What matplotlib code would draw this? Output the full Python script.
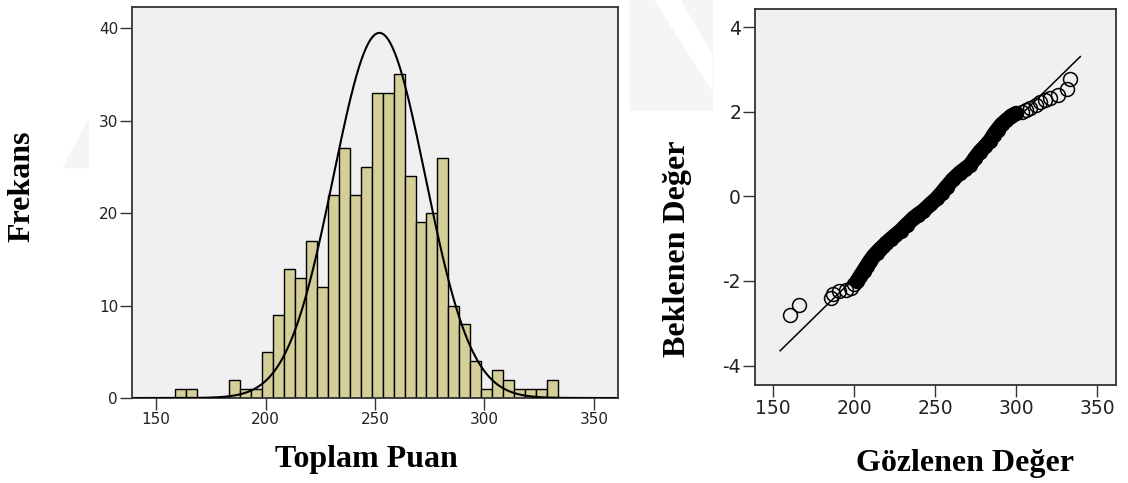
import numpy as np
import matplotlib
matplotlib.use("Agg")
import matplotlib.pyplot as plt
from matplotlib.patches import Polygon

plt.rcParams["axes.unicode_minus"] = False

# histogram: counts per 5-point bin, first bin starts at 158.5
bin_start = 158.5
bin_width = 5
counts = [1, 1, 0, 0, 0, 2, 1, 1, 5, 9, 14, 13, 17, 12, 22, 27, 22, 25,
          33, 33, 35, 24, 19, 20, 26, 10, 8, 4, 1, 3, 2, 1, 1, 1, 2]

# fitted normal curve
curve_mean = 252
curve_sd = 21
curve_peak = 39.5

# normal Q-Q plot: observed value vs expected normal value
band_observed = [202, 204, 206, 208, 210, 212, 214, 216, 218, 220, 222.7,
                 225.5, 228.9, 232.5, 236.6, 239.5, 242.8, 247, 251, 254,
                 257.2, 261, 265.4, 268.5, 271.6, 274.5, 277.7, 281, 283.9,
                 286, 288.5, 291, 294, 297, 300]
band_expected = [-2.0, -1.88, -1.76, -1.64, -1.52, -1.42, -1.33, -1.25,
                 -1.18, -1.10, -1.01, -0.92, -0.81, -0.67, -0.52, -0.43,
                 -0.34, -0.19, -0.05, 0.08, 0.23, 0.40, 0.56, 0.65, 0.74,
                 0.90, 1.06, 1.19, 1.32, 1.45, 1.58, 1.70, 1.80, 1.90, 1.96]
tail_observed = [160.7, 166.4, 186, 187, 191, 195, 198, 200,
                 303.4, 306, 308.5, 312, 314.7, 318, 320.9, 326, 331.5, 333]
tail_expected = [-2.80, -2.56, -2.40, -2.32, -2.24, -2.22, -2.16, -2.08,
                 2.00, 2.04, 2.08, 2.17, 2.24, 2.28, 2.32, 2.40, 2.55, 2.78]
line_mean = 251.6
line_sd = 26.6
line_range = [154.5, 339.5]

W, H = 1128, 483
fig = plt.figure(figsize=(W / 100, H / 100), dpi=100)
fig.patch.set_facecolor("white")

# faint watermark shapes in the background
wm = "#f5f5f5"
fig.patches.append(Polygon([(630 / W, 1), (712 / W, 1), (712 / W, 1 - 110 / H),
                            (630 / W, 1 - 110 / H)], closed=True,
                           transform=fig.transFigure, color=wm, zorder=0))
fig.patches.append(Polygon([(655 / W, 1), (680 / W, 1), (712 / W, 1 - 55 / H),
                            (712 / W, 1 - 90 / H)], closed=True,
                           transform=fig.transFigure, color="white", zorder=0))
fig.patches.append(Polygon([(63 / W, 1 - 167 / H), (88 / W, 1 - 167 / H),
                            (88 / W, 1 - 120 / H)], closed=True,
                           transform=fig.transFigure, color=wm, zorder=0))

tick_font = "DejaVu Sans"
label_font = "Liberation Serif"
frame_color = "#333333"

ax1 = fig.add_axes([132 / W, 1 - 398 / H, 486 / W, 391 / H])
ax2 = fig.add_axes([755 / W, 1 - 385 / H, 361 / W, 376 / H])

# ---- histogram ----
edges = bin_start + bin_width * np.arange(len(counts) + 1)
ax1.hist(edges[:-1], bins=edges, weights=counts, color="#d4cf98",
         edgecolor="black", linewidth=1.0, zorder=2)
xs = np.linspace(140, 360, 400)
ax1.plot(xs, curve_peak * np.exp(-(xs - curve_mean) ** 2 / (2 * curve_sd ** 2)),
         color="black", linewidth=1.5, zorder=3)
ax1.set_xlim(139, 361)
ax1.set_ylim(0, 42.3)
ax1.set_xticks([150, 200, 250, 300, 350])
ax1.set_yticks([0, 10, 20, 30, 40])

# ---- Q-Q plot ----
lx = np.array(line_range)
ax2.plot(lx, (lx - line_mean) / line_sd, color="black", linewidth=1.1, zorder=2)
ax2.plot(band_observed, band_expected, color="black", linewidth=11,
         solid_capstyle="round", solid_joinstyle="round", zorder=3)
ax2.plot(band_observed + tail_observed, band_expected + tail_expected,
         linestyle="none", marker="o", markersize=10, markerfacecolor="none",
         markeredgecolor="black", markeredgewidth=1.1, zorder=4)
ax2.set_xlim(139, 361.5)
ax2.set_ylim(-4.46, 4.43)
ax2.set_xticks([150, 200, 250, 300, 350])
ax2.set_yticks([-4, -2, 0, 2, 4])

for ax, fs in ((ax1, 11), (ax2, 13.5)):
    ax.set_facecolor("#f0f0f0")
    for s in ax.spines.values():
        s.set_color(frame_color)
        s.set_linewidth(1.3)
    ax.tick_params(direction="out", length=8.5, width=1.0, color=frame_color,
                   pad=1.5, labelsize=fs, labelcolor="#222222")
    for t in ax.get_xticklabels() + ax.get_yticklabels():
        t.set_fontfamily(tick_font)

# axis titles
lab = dict(fontsize=23, fontweight="bold", family=label_font, color="black",
           ha="center", va="center")
fig.text(22 / W, 1 - 186 / H, "Frekans", rotation=90, **lab)
fig.text(366 / W, 1 - 460 / H, "Toplam Puan", **lab)
fig.text(677 / W, 1 - 249 / H, "Beklenen Değer", rotation=90, **lab)
fig.text(965 / W, 1 - 463 / H, "Gözlenen Değer", **lab)

fig.savefig("out.png", dpi=100)
